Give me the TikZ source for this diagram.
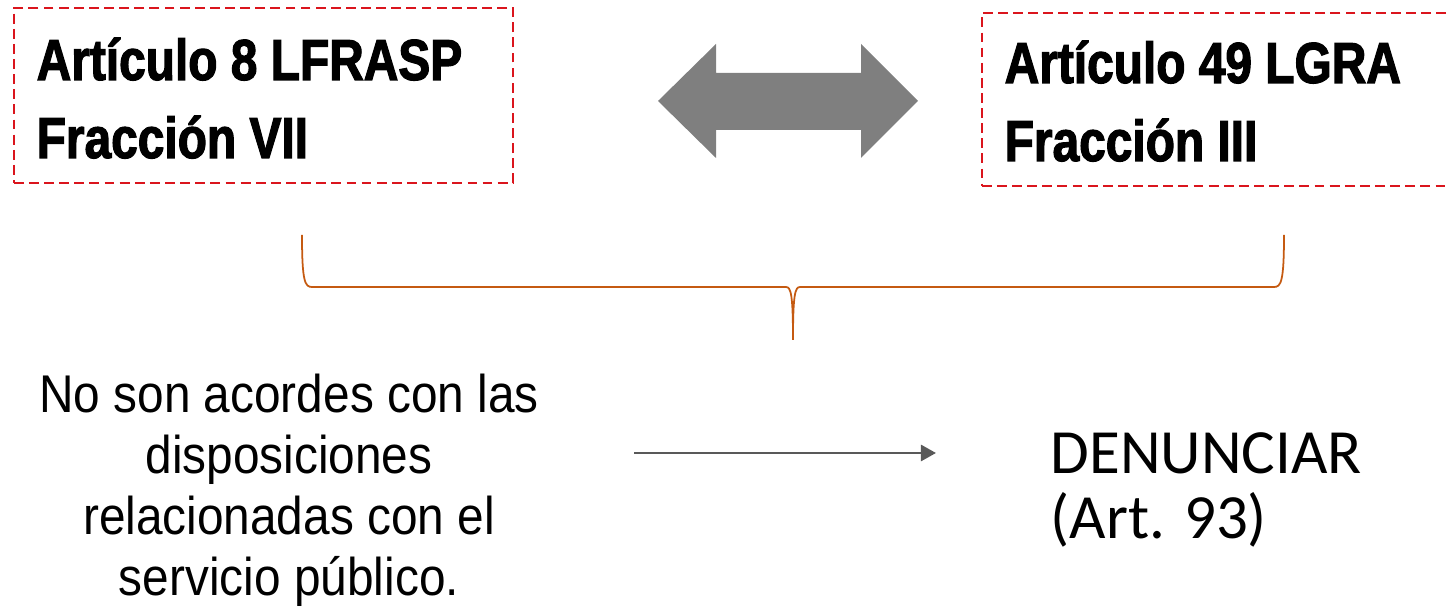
\documentclass[tikz,border=0pt]{standalone}
\usepackage{fontspec}
\usetikzlibrary{arrows.meta}
\newfontfamily\heavyfont[FakeStretch=0.83,FakeBold=2]{Liberation Sans}
\newfontfamily\narrowfont[FakeStretch=0.90]{Liberation Sans}
\newfontfamily\calibfont{Carlito}
\definecolor{boxred}{RGB}{218,21,29}
\definecolor{arrowgray}{RGB}{127,127,127}
\definecolor{bracebrown}{RGB}{197,90,17}
\definecolor{linegray}{RGB}{89,89,89}

\begin{document}
\begin{tikzpicture}[x=0.01cm,y=-0.01cm,
  artbox/.style={draw=boxred, line width=0.6pt, dash pattern=on 2.8pt off 1.5pt, inner sep=0pt},
  arttext/.style={inner sep=0pt, align=left, font=\heavyfont\bfseries\fontsize{16.4}{22.2}\selectfont},
  desctext/.style={inner sep=0pt, align=center, font=\narrowfont\fontsize{15.1}{17.4}\selectfont},
  actiontext/.style={inner sep=0pt, align=left, font=\calibfont\fontsize{17.9}{18.5}\selectfont},
  flowarrow/.style={draw=linegray, line width=0.75pt, -{Triangle[length=0.15cm,width=0.16cm]}}]
\useasboundingbox (0,0) rectangle (1447,613);

% boxes
\node[artbox, minimum width=4.99cm, minimum height=1.75cm] (lfraspbox) at (263.5,95.5) {};
\node[artbox, minimum width=4.78cm, minimum height=1.73cm] (lgrabox) at (1221,99.5) {};
\node[arttext, anchor=base west] (lfrasp) at (36,158) {Artículo 8 LFRASP\\Fracción VII};
\node[arttext, anchor=base west] (lgra) at (1004,161) {Artículo 49 LGRA\\Fracción III};

% double arrow between the two articles
\fill[arrowgray] (658,101) -- (716,44) -- (716,73) -- (861,73) -- (861,44) -- (918,101)
  -- (861,158) -- (861,130) -- (716,130) -- (716,158) -- cycle;

% brace
\draw[bracebrown, line width=0.5pt] (302,235) .. controls (302,282) and (305,287) .. (312,287)
  -- (786,287) .. controls (791,287) and (793,295) .. (793,340)
  .. controls (793,295) and (795,287) .. (800,287) -- (1274,287)
  .. controls (1281,287) and (1284,282) .. (1284,235);

\node[desctext, anchor=base] (acordes) at (289,596) {No son acordes con las\\disposiciones\\relacionadas con el\\servicio público.};
\node[actiontext, anchor=base west] (denunciar) at (1050,539) {DENUNCIAR\\(Art. 93)};

\coordinate (arrstart) at (634,453);
\coordinate (arrend) at (936,453);
\draw[flowarrow] (arrstart) -- (arrend);
\end{tikzpicture}
\end{document}
